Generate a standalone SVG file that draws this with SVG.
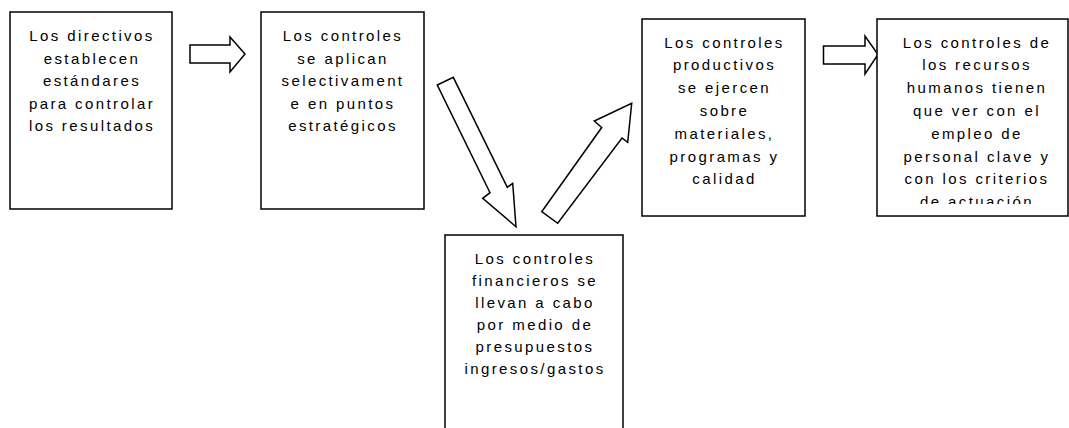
<svg xmlns="http://www.w3.org/2000/svg" width="1069" height="428" viewBox="0 0 1069 428">
<style>
.box{fill:#fff;stroke:#000;stroke-width:1.5}
.arr{fill:#fff;stroke:#000;stroke-width:1.5;stroke-linejoin:miter}
text{font-family:"Liberation Sans",Arial,sans-serif;font-size:15px;letter-spacing:2.4px;fill:#000;text-anchor:middle}
</style>
<defs>
<clipPath id="clip4"><rect x="877" y="19" width="192" height="185"/></clipPath>
</defs>
<rect width="1069" height="428" fill="#fff"/>
<g id="connectors">
<polygon class="arr" points="190,45 230,45 230,37 245,54 230,72 230,63 190,63"/>
<polygon class="arr" points="437.3,85 453.3,77.3 507.3,187.3 512.7,183.3 516,226.7 482.7,198.3 490,192.7"/>
<polygon class="arr" points="541.7,211.7 601.7,127.5 594.3,121 631.7,103.3 627.7,142.3 622,138 557.7,223.3"/>
<polygon class="arr" points="823.5,46 865,46 865,36 878,54.5 865,74 865,64 823.5,64"/>
</g>
<g id="node1">
<rect class="box" x="10" y="12" width="162" height="197"/>
<text x="92" y="41">Los directivos</text>
<text x="92" y="63.5">establecen</text>
<text x="92" y="86">estándares</text>
<text x="92" y="108.5">para controlar</text>
<text x="92" y="131">los resultados</text>
</g>
<g id="node2">
<rect class="box" x="261" y="12" width="163" height="197"/>
<text x="343" y="41">Los controles</text>
<text x="343" y="63.5">se aplican</text>
<text x="343" y="86">selectivament</text>
<text x="343" y="108.5">e en puntos</text>
<text x="343" y="131">estratégicos</text>
</g>
<g id="node3">
<rect class="box" x="642" y="19" width="163" height="197"/>
<text x="724.5" y="47.5">Los controles</text>
<text x="724.5" y="70.3">productivos</text>
<text x="724.5" y="93.1">se ejercen</text>
<text x="724.5" y="115.9">sobre</text>
<text x="724.5" y="138.7">materiales,</text>
<text x="724.5" y="161.5">programas y</text>
<text x="724.5" y="184.3">calidad</text>
</g>
<g id="node4">
<rect class="box" x="877" y="19" width="191" height="197"/>
<g clip-path="url(#clip4)">
<text x="977" y="47.5">Los controles de</text>
<text x="977" y="70.3">los recursos</text>
<text x="977" y="93.1">humanos tienen</text>
<text x="977" y="115.9">que ver con el</text>
<text x="977" y="138.7">empleo de</text>
<text x="977" y="161.5">personal clave y</text>
<text x="977" y="184.3">con los criterios</text>
<text x="977" y="207.1">de actuación</text>
</g>
</g>
<g id="node5">
<rect class="box" x="445" y="235" width="178" height="205"/>
<text x="535" y="263.5">Los controles</text>
<text x="535" y="285.5">financieros se</text>
<text x="535" y="307.5">llevan a cabo</text>
<text x="535" y="329.5">por medio de</text>
<text x="535" y="351.5">presupuestos</text>
<text x="535" y="373.5">ingresos/gastos</text>
</g>
</svg>
